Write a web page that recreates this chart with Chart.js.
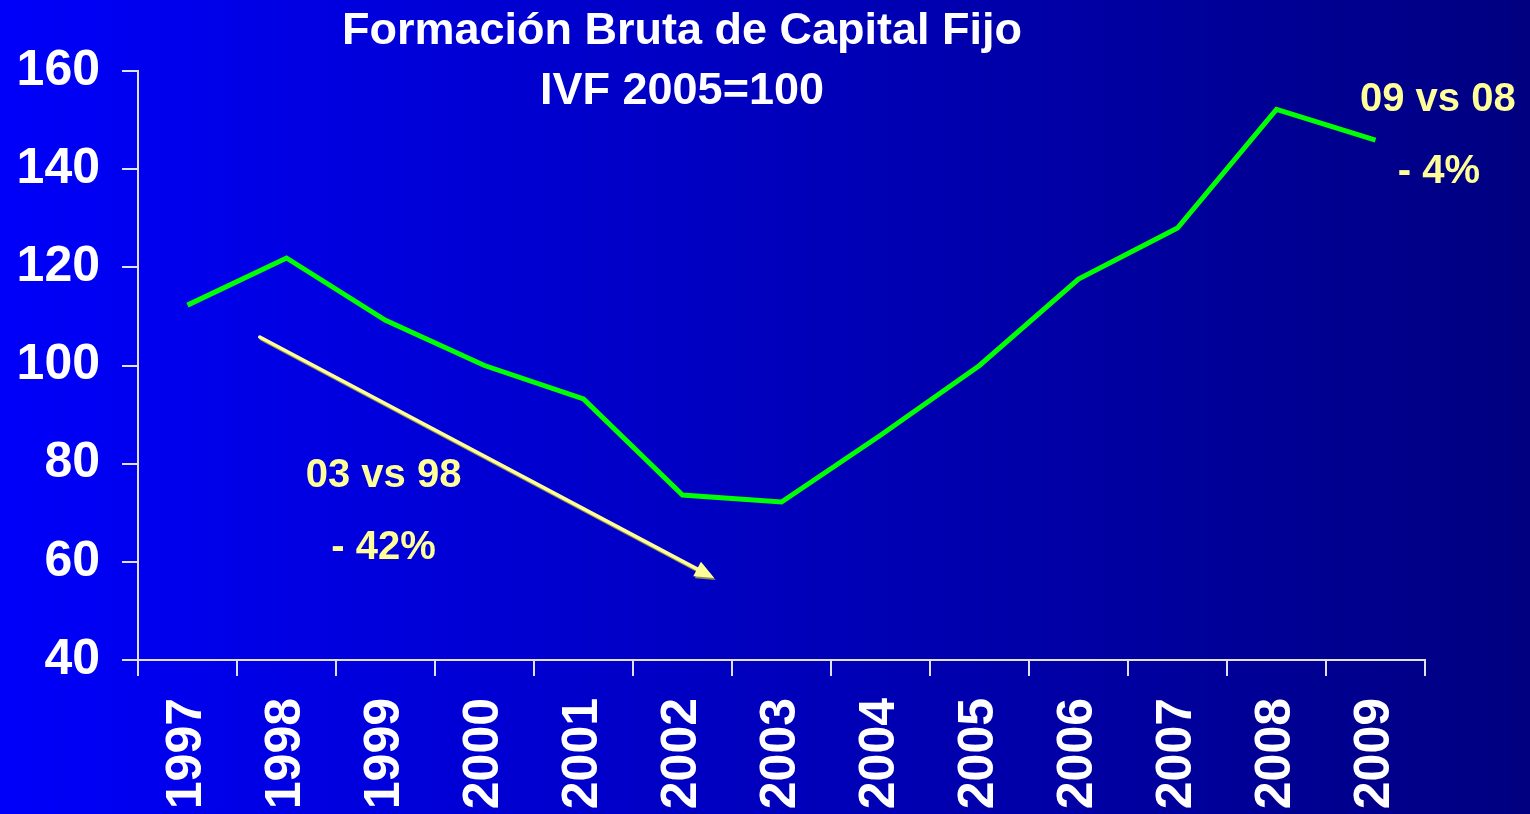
<!DOCTYPE html>
<html>
<head>
<meta charset="utf-8">
<title>Formación Bruta de Capital Fijo</title>
<script src="https://cdn.jsdelivr.net/npm/chart.js@4/dist/chart.umd.min.js"></script>
<style>
  html, body { margin: 0; padding: 0; background: #00008a; overflow: hidden; }
  #wrap { width: 1530px; height: 814px; }
</style>
</head>
<body>
<div id="wrap"><canvas id="chartFBKF" width="1530" height="814"></canvas></div>
<script>
// Chart data
const years = ['1997', '1998', '1999', '2000', '2001', '2002', '2003',
               '2004', '2005', '2006', '2007', '2008', '2009'];
const ivfValues = [112.3, 121.9, 109.2, 100, 93.2, 73.6, 72.2,
                   85.8, 100, 117.6, 128, 152.2, 145.9];
const yTicks = [40, 60, 80, 100, 120, 140, 160];
const titleLines = ['Formación Bruta de Capital Fijo', 'IVF 2005=100'];

// Notes placed in data units (category index, value at text baseline)
const notes = [
    { text: '03 vs 98', x: 1.98, y: 75.2 },
    { text: '- 42%', x: 1.98, y: 60.6 },
    { text: '09 vs 08', x: 12.63, y: 151.8 },
    { text: '- 4%', x: 12.64, y: 137.2 }
];
const arrowFrom = { x: 0.73, y: 105.8 };
const arrowTo = { x: 5.32, y: 56.7 };

const FONT = '"Liberation Sans", Arial, sans-serif';
const NOTE_COLOR = '#ffff99';

/**
 * Background gradient, title, notes and arrow
 */
const slideDecor = {
    id: 'slideDecor',
    beforeDraw(chart) {
        const { ctx, width, height } = chart;
        const g = ctx.createLinearGradient(0, 0, width, 0);
        g.addColorStop(0, '#0000fa');
        g.addColorStop(1, '#000080');
        ctx.save();
        ctx.fillStyle = g;
        ctx.fillRect(0, 0, width, height);
        ctx.restore();
    },
    afterDatasetsDraw(chart) {
        const { ctx, scales } = chart;
        const px = (p) => ({ x: scales.x.getPixelForValue(p.x), y: scales.y.getPixelForValue(p.y) });

        // arrow with a soft shadow
        const a = px(arrowFrom), b = px(arrowTo);
        const ang = Math.atan2(b.y - a.y, b.x - a.x);
        const drawArrow = (dx, dy, color) => {
            ctx.save();
            ctx.translate(dx, dy);
            ctx.strokeStyle = color;
            ctx.fillStyle = color;
            ctx.lineWidth = 3.5;
            ctx.lineCap = 'round';
            const headLen = 21;
            ctx.beginPath();
            ctx.moveTo(a.x, a.y);
            ctx.lineTo(b.x - Math.cos(ang) * headLen * 0.7, b.y - Math.sin(ang) * headLen * 0.7);
            ctx.stroke();
            ctx.beginPath();
            ctx.moveTo(b.x, b.y);
            ctx.lineTo(b.x - headLen * Math.cos(ang - 0.4), b.y - headLen * Math.sin(ang - 0.4));
            ctx.lineTo(b.x - headLen * Math.cos(ang + 0.4), b.y - headLen * Math.sin(ang + 0.4));
            ctx.closePath();
            ctx.fill();
            ctx.restore();
        };
        drawArrow(1.5, 2, '#8c8c50');
        drawArrow(0, 0, NOTE_COLOR);

        ctx.save();
        ctx.fillStyle = NOTE_COLOR;
        ctx.font = 'bold 40px ' + FONT;
        ctx.textAlign = 'center';
        ctx.textBaseline = 'alphabetic';
        notes.forEach(n => {
            const p = px(n);
            ctx.fillText(n.text, p.x, p.y);
        });
        ctx.restore();
    },
    afterDraw(chart) {
        const { ctx } = chart;
        ctx.save();
        ctx.fillStyle = '#ffffff';
        ctx.font = 'bold 45px ' + FONT;
        ctx.textAlign = 'center';
        ctx.textBaseline = 'alphabetic';
        ctx.fillText(titleLines[0], 682, 44);
        ctx.fillText(titleLines[1], 682, 104);
        ctx.restore();
    }
};

function renderChart() {
    const ctx = document.getElementById('chartFBKF').getContext('2d');
    new Chart(ctx, {
        type: 'line',
        data: {
            labels: years,
            datasets: [{
                data: ivfValues,
                borderColor: '#00ff00',
                borderWidth: 5,
                pointRadius: 0,
                tension: 0,
                fill: false
            }]
        },
        options: {
            responsive: false,
            animation: false,
            layout: { padding: { top: 71, right: 105, left: 0, bottom: 0 } },
            plugins: {
                legend: { display: false },
                tooltip: { enabled: false }
            },
            scales: {
                x: {
                    offset: true,
                    afterFit(scale) { scale.height = 154; },
                    border: { display: true, color: '#e0e0ee', width: 2 },
                    grid: {
                        offset: true,
                        drawOnChartArea: false,
                        drawTicks: true,
                        tickLength: 16,
                        tickColor: '#e0e0ee',
                        lineWidth: 2
                    },
                    ticks: {
                        color: '#ffffff',
                        font: { family: FONT, size: 50, weight: 'bold' },
                        minRotation: 90,
                        maxRotation: 90,
                        autoSkip: false,
                        padding: 22
                    }
                },
                y: {
                    min: 40,
                    max: 160,
                    afterFit(scale) { scale.width = 138; },
                    afterBuildTicks(scale) { scale.ticks = yTicks.map(v => ({ value: v })); },
                    border: { display: true, color: '#e0e0ee', width: 2 },
                    grid: {
                        drawOnChartArea: false,
                        drawTicks: true,
                        tickLength: 16,
                        tickColor: '#e0e0ee',
                        lineWidth: 2
                    },
                    ticks: {
                        color: '#ffffff',
                        font: { family: FONT, size: 50, weight: 'bold' },
                        padding: 22
                    }
                }
            }
        },
        plugins: [slideDecor]
    });
}

document.addEventListener('DOMContentLoaded', renderChart);
</script>
</body>
</html>
